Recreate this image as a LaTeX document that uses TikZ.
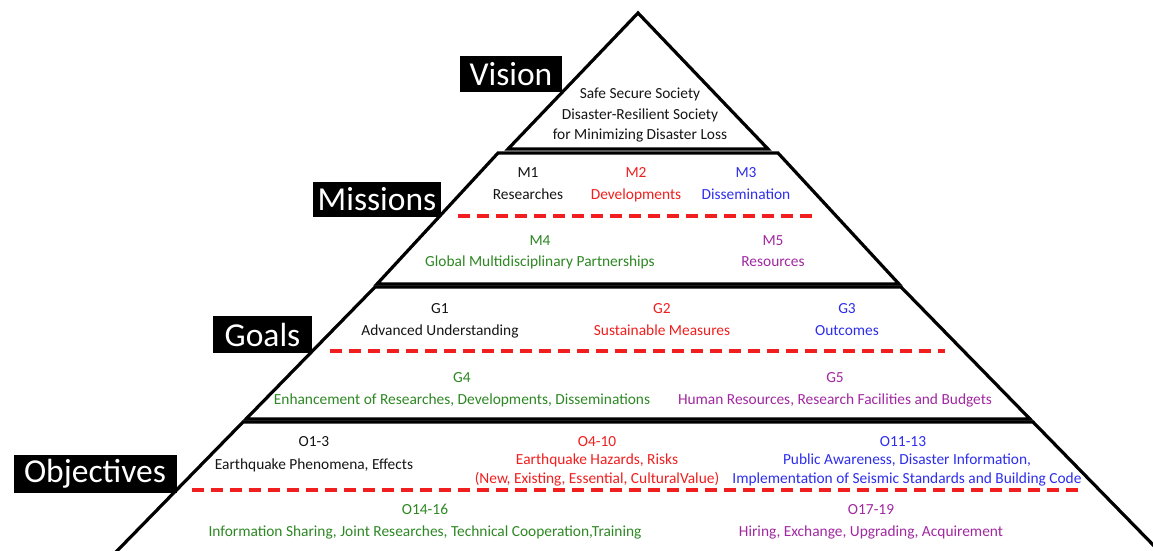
\documentclass[tikz,border=0pt]{standalone}
\usepackage{fontspec}
\setmainfont{Carlito}
\definecolor{rd}{RGB}{240,30,30}
\definecolor{bl}{RGB}{45,45,235}
\definecolor{gn}{RGB}{45,135,35}
\definecolor{pp}{RGB}{160,40,160}
\definecolor{dk}{RGB}{20,20,20}
\begin{document}
\begin{tikzpicture}[x=1pt,y=-1pt,
  tier/.style={draw=black, line width=3.2pt, line join=miter},
  sepline/.style={draw=rd, line width=3.2pt, dash pattern=on 12pt off 7pt},
  lbl/.style={fill=black, text=white, inner sep=0pt, font=\fontsize{33.5}{36}\selectfont},
  txt/.style={anchor=base, inner sep=0pt, font=\fontsize{15.4}{18}\selectfont, text=dk}]
\useasboundingbox (0,0) rectangle (1153,551);
\clip (0,0) rectangle (1153,551);

% tier outlines
\coordinate (va) at (638,13);
\coordinate (vl) at (508,149);
\coordinate (vr) at (768,149);
\draw[tier] (va) -- (vl) -- (vr) -- cycle;

\coordinate (mtl) at (498,153);
\coordinate (mtr) at (778,153);
\coordinate (mbr) at (899,284);
\coordinate (mbl) at (377,284);
\draw[tier] (mtl) -- (mtr) -- (mbr) -- (mbl) -- cycle;

\coordinate (gtl) at (375,287);
\coordinate (gtr) at (901,287);
\coordinate (gbr) at (1030,419);
\coordinate (gbl) at (246,419);
\draw[tier] (gtl) -- (gtr) -- (gbr) -- (gbl) -- cycle;

\coordinate (otl) at (243,422);
\coordinate (otr) at (1033,422);
\coordinate (obr) at (1161,553);
\coordinate (obl) at (115,553);
\draw[tier] (obl) -- (otl) -- (otr) -- (obr);

% dashed separators inside tiers
\coordinate (ms1) at (458,216);
\coordinate (ms2) at (812,216);
\coordinate (gs1) at (330,351);
\coordinate (gs2) at (945,351);
\coordinate (os1) at (192,490);
\coordinate (os2) at (1078,490);
\draw[sepline] (ms1) -- (ms2);
\draw[sepline] (gs1) -- (gs2);
\draw[sepline] (os1) -- (os2);

% level labels
\node[lbl, minimum width=102pt, minimum height=36pt] (vision) at (511,74) {Vision};
\node[lbl, minimum width=128pt, minimum height=35pt] (missions) at (377,199.5) {Missions};
\node[lbl, minimum width=99pt, minimum height=37pt] (goals) at (262.5,334.5) {Goals};
\node[lbl, minimum width=163pt, minimum height=38pt] (objectives) at (95,474) {Objectives};

% vision
\node[txt] (v1) at (640,98) {Safe Secure Society};
\node[txt] (v2) at (640,119) {Disaster-Resilient Society};
\node[txt] (v3) at (640,139) {for Minimizing Disaster Loss};

% missions
\node[txt] (m1) at (528,177) {M1};
\node[txt] (m1t) at (528,199) {Researches};
\node[txt, text=rd] (m2) at (636,177) {M2};
\node[txt, text=rd] (m2t) at (636,199) {Developments};
\node[txt, text=bl] (m3) at (746,177) {M3};
\node[txt, text=bl] (m3t) at (746,199) {Dissemination};
\node[txt, text=gn] (m4) at (540,245) {M4};
\node[txt, text=gn] (m4t) at (540,266) {Global Multidisciplinary Partnerships};
\node[txt, text=pp] (m5) at (773,245) {M5};
\node[txt, text=pp] (m5t) at (773,266) {Resources};

% goals
\node[txt] (g1) at (440,313) {G1};
\node[txt] (g1t) at (440,335) {Advanced Understanding};
\node[txt, text=rd] (g2) at (662,313) {G2};
\node[txt, text=rd] (g2t) at (662,335) {Sustainable Measures};
\node[txt, text=bl] (g3) at (847,313) {G3};
\node[txt, text=bl] (g3t) at (847,335) {Outcomes};
\node[txt, text=gn] (g4) at (462,382) {G4};
\node[txt, text=gn] (g4t) at (462,404) {Enhancement of Researches, Developments, Disseminations};
\node[txt, text=pp] (g5) at (835,382) {G5};
\node[txt, text=pp] (g5t) at (835,404) {Human Resources, Research Facilities and Budgets};

% objectives
\node[txt] (o1) at (314,446) {O1-3};
\node[txt] (o1t) at (314,469) {Earthquake Phenomena, Effects};
\node[txt, text=rd] (o2) at (597,446) {O4-10};
\node[txt, text=rd] (o2t) at (597,464) {Earthquake Hazards, Risks};
\node[txt, text=rd] (o2u) at (597,483) {(New, Existing, Essential, CulturalValue)};
\node[txt, text=bl] (o3) at (903,446) {O11-13};
\node[txt, text=bl] (o3t) at (907,464) {Public Awareness, Disaster Information,};
\node[txt, text=bl] (o3u) at (907,483) {Implementation of Seismic Standards and Building Code};
\node[txt, text=gn] (o4) at (425,514) {O14-16};
\node[txt, text=gn] (o4t) at (425,536) {Information Sharing, Joint Researches, Technical Cooperation,Training};
\node[txt, text=pp] (o5) at (871,514) {O17-19};
\node[txt, text=pp] (o5t) at (871,536) {Hiring, Exchange, Upgrading, Acquirement};
\end{tikzpicture}
\end{document}
